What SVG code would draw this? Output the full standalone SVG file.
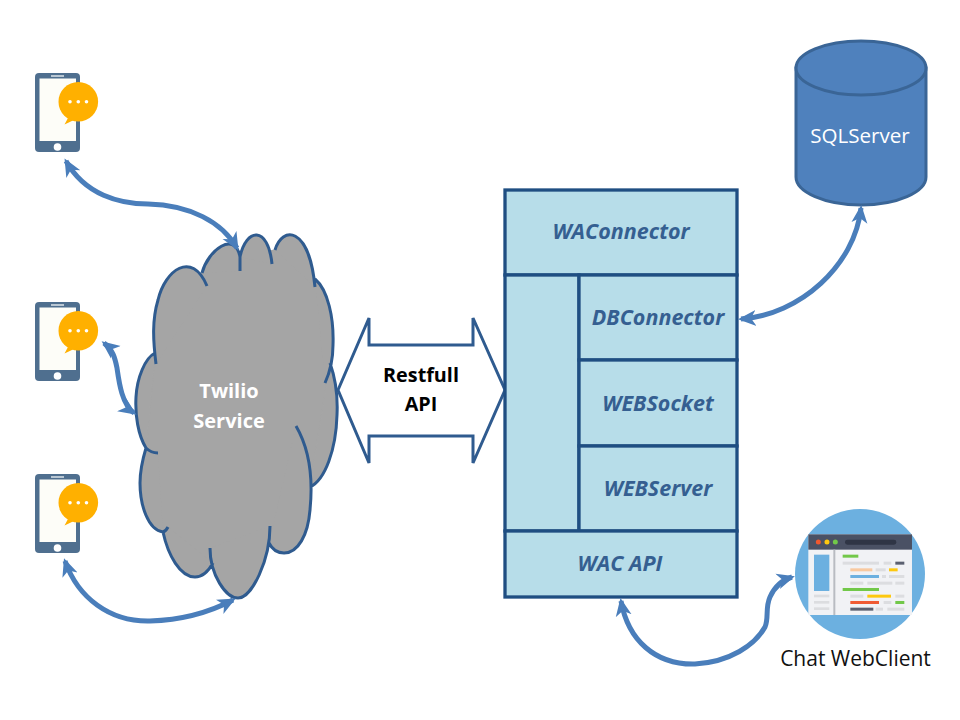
<svg xmlns="http://www.w3.org/2000/svg" width="960" height="720" viewBox="0 0 960 720">
<style>
.ln{fill:none;stroke:#2f5b8f;stroke-width:3}
.cf{fill:#a5a5a5;stroke:#a5a5a5;stroke-width:1.500}
.box{fill:#b7dde9;stroke:#1f4e82;stroke-width:3.300}
.lbl{font-family:"Open Sans","Liberation Sans",sans-serif;font-size:21.500px;font-weight:700;font-style:italic;fill:#355f91;text-anchor:middle}
.w{font-family:"Open Sans","Liberation Sans",sans-serif;font-size:20px;font-weight:700;fill:#fff;text-anchor:middle}
.k{font-family:"Open Sans","Liberation Sans",sans-serif;font-size:19.800px;font-weight:700;fill:#000;text-anchor:middle}
.arr{fill:none;stroke:#4a7ebb;stroke-width:5;marker-start:url(#h);marker-end:url(#h)}
</style>
<defs>
<marker id="h" markerUnits="userSpaceOnUse" markerWidth="22" markerHeight="20" refX="15" refY="10" orient="auto-start-reverse" viewBox="0 0 22 20">
<path d="M18 10L0 2L5 10L0 18Z" fill="#4a7ebb"/>
</marker>
<g id="phone">
<rect x="35" y="73" width="45" height="79" rx="4" fill="#4f6f8f"/>
<rect x="39.500" y="78.500" width="36.500" height="62.500" fill="#fdfdf8"/>
<rect x="51" y="75" width="13" height="2" fill="#b9c7d3"/>
<circle cx="57.500" cy="147" r="3.800" fill="#fff"/>
<circle cx="78.300" cy="101.700" r="19.800" fill="#ffb000"/>
<path d="M68 118L64.500 124.500L74 120Z" fill="#ffb000"/>
<circle cx="70" cy="101.700" r="1.800" fill="#fff"/><circle cx="78.300" cy="101.700" r="1.800" fill="#fff"/><circle cx="86.500" cy="101.700" r="1.800" fill="#fff"/>
</g>
</defs>
<rect width="960" height="720" fill="#fff"/>

<g id="phone1"><use href="#phone"/></g>
<g id="phone2"><use href="#phone" y="229"/></g>
<g id="phone3"><use href="#phone" y="401"/></g>

<g id="twilio">
<path class="cf" d="M156 364L202 273L240 257L275 250L315 279L330 363L310 487L284 553L269 543L238 590L213 563L195 570L163 532L146 448L155 353Z"/>
<path class="cf" style="stroke:none" d="M156 364C153 340 152 320 158 300C165 270 192 250 207 286M202 273C208 250 235 230 240 257L240 271M240 257C246 228 268 225 272 264M275 250C282 226 309 225 315 287M315 279C328 290 334 318 333 345C333 360 330 372 325 383M330 363C336 380 338 395 337 415C336 450 325 480 310 487M296 426C310 450 313 480 310 510C308 535 298 553 284 553C277 553 272 549 269 543M270 526C270 560 252 598 238 598C226 598 210 575 210 548M213 563C208 572 202 577 195 577C180 577 168 555 163 532C166 531 167 529 168 527M163 532C148 530 140 505 140 483C140 470 143 458 146 448C149 451 153 453 158 453M146 448C138 435 135 415 136 397C137 378 145 358 155 353"/>
<path class="ln" d="M156 364C153 340 152 320 158 300C165 270 192 250 207 286M202 273C208 250 235 230 240 257L240 271M240 257C246 228 268 225 272 264M275 250C282 226 309 225 315 287M315 279C328 290 334 318 333 345C333 360 330 372 325 383M330 363C336 380 338 395 337 415C336 450 325 480 310 487M296 426C310 450 313 480 310 510C308 535 298 553 284 553C277 553 272 549 269 543M270 526C270 560 252 598 238 598C226 598 210 575 210 548M213 563C208 572 202 577 195 577C180 577 168 555 163 532C166 531 167 529 168 527M163 532C148 530 140 505 140 483C140 470 143 458 146 448C149 451 153 453 158 453M146 448C138 435 135 415 136 397C137 378 145 358 155 353"/>
<text class="w" x="229" y="398">Twilio</text>
<text class="w" x="229" y="428">Service</text>
</g>

<g id="restapi">
<path class="ln" d="M338 390L369 318V345H473V318L505 390L473 463V436H369V463Z"/>
<text class="k" x="421" y="382">Restfull</text>
<text class="k" x="421" y="411">API</text>
</g>

<g id="server">
<rect class="box" x="505" y="190" width="232" height="85"/>
<rect class="box" x="505" y="275" width="74" height="256"/>
<rect class="box" x="579" y="275" width="158" height="85"/>
<rect class="box" x="579" y="360" width="158" height="86"/>
<rect class="box" x="579" y="446" width="158" height="85"/>
<rect class="box" x="505" y="531" width="232" height="66"/>
<text class="lbl" x="621" y="239">WAConnector</text>
<text class="lbl" x="658" y="325">DBConnector</text>
<text class="lbl" x="658" y="411">WEBSocket</text>
<text class="lbl" x="658" y="496">WEBServer</text>
<text class="lbl" x="620" y="571">WAC API</text>
</g>

<g id="sqlserver">
<path d="M796 68V177C796 192 825 205 861 205C897 205 926 192 926 177V68Z" fill="#4f81bd" stroke="#3a6596" stroke-width="3"/>
<ellipse cx="861" cy="68" rx="65" ry="27" fill="#4f81bd" stroke="#3a6596" stroke-width="3"/>
<text x="860" y="143" font-family="'Open Sans','Liberation Sans',sans-serif" font-size="20.600" fill="#fff" text-anchor="middle">SQLServer</text>
</g>

<g id="webclient">
<circle cx="860" cy="574" r="65" fill="#6cb0e0"/>
<g transform="translate(770 500) scale(.3333)">
<rect x="115" y="103" width="311" height="242" fill="#f1f2f5"/>
<rect x="115" y="103" width="311" height="46" fill="#4a5164"/>
<circle cx="145" cy="126" r="7.500" fill="#f0582f"/><circle cx="171" cy="126" r="7.500" fill="#fdc80f"/><circle cx="196" cy="126" r="7.500" fill="#72c849"/>
<rect x="225" y="119" width="154" height="15" rx="7" fill="#2f3545"/>
<rect x="190" y="149" width="6" height="196" fill="#b9bcc2"/>
<rect x="132" y="164" width="46" height="109" fill="#6cb0e0"/>
<g fill="#dcdde0">
<rect x="132" y="284" width="46" height="8"/><rect x="132" y="303" width="46" height="8"/><rect x="132" y="322" width="46" height="8"/>
<rect x="218" y="185" width="109" height="9"/><rect x="341" y="185" width="23" height="9"/>
<rect x="317" y="205" width="30" height="9"/>
<rect x="336" y="225" width="12" height="9"/><rect x="357" y="225" width="46" height="9"/>
<rect x="241" y="245" width="39" height="9"/><rect x="292" y="245" width="75" height="9"/><rect x="376" y="245" width="27" height="9"/>
<rect x="241" y="284" width="39" height="9"/><rect x="376" y="284" width="27" height="9"/>
<rect x="341" y="303" width="23" height="9"/>
<rect x="317" y="323" width="22" height="9"/><rect x="352" y="323" width="51" height="9"/>
</g>
<rect x="218" y="164" width="47" height="9" fill="#72c849"/>
<rect x="376" y="185" width="27" height="9" fill="#5b6070"/>
<rect x="241" y="205" width="66" height="9" fill="#f8c9a0"/>
<rect x="357" y="205" width="26" height="9" fill="#fdc80f"/>
<rect x="241" y="225" width="86" height="9" fill="#6cb0e0"/>
<rect x="218" y="264" width="109" height="9" fill="#72c849"/>
<rect x="292" y="284" width="71" height="9" fill="#fdc80f"/>
<rect x="241" y="303" width="86" height="9" fill="#ef5a33"/>
<rect x="376" y="303" width="27" height="9" fill="#72c849"/>
<rect x="241" y="323" width="69" height="9" fill="#5b6070"/>
</g>
<text x="855.500" y="666" font-family="'Open Sans','Liberation Sans',sans-serif" font-size="21" fill="#111" text-anchor="middle">Chat WebClient</text>
</g>

<g id="connectors">
<path class="arr" d="M66 161C85 195 120 204 148 204C190 205 222 222 237 248"/>
<path class="arr" d="M104 343C113 350 115 358 117 368C119 382 122 405 134 413"/>
<path class="arr" d="M65 561C78 598 110 622 150 621C185 620 210 612 233 600"/>
<path class="arr" d="M861 208C855 265 800 315 741 319"/>
<path class="arr" d="M621 601C628 640 655 665 695 664C730 662 755 645 765 627C769 618 765 608 770 597C775 586 782 580 792 577"/>
</g>
</svg>
